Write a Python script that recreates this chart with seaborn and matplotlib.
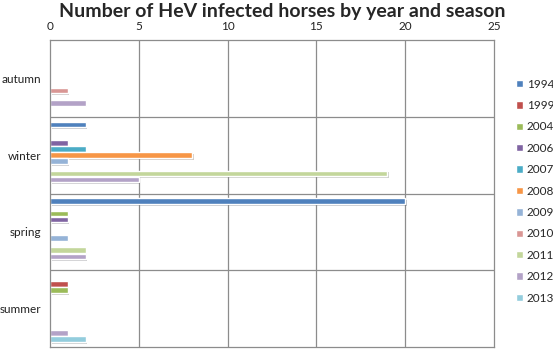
import pandas as pd
import matplotlib.pyplot as plt
import matplotlib.patheffects as pe
from matplotlib.patches import Patch
import seaborn as sns

# seasons (top to bottom) and years
seasons = ["autumn", "winter", "spring", "summer"]
years = ["1994", "1999", "2004", "2006", "2007", "2008",
         "2009", "2010", "2011", "2012", "2013"]

# infected horses per year, in season order
v1994 = [0, 2, 20, 0]
v1999 = [0, 0, 0, 1]
v2004 = [0, 0, 1, 1]
v2006 = [0, 1, 1, 0]
v2007 = [0, 2, 0, 0]
v2008 = [0, 8, 0, 0]
v2009 = [0, 1, 1, 0]
v2010 = [1, 0, 0, 0]
v2011 = [0, 19, 2, 0]
v2012 = [2, 5, 2, 1]
v2013 = [0, 0, 0, 2]

colors = ["#4F81BD", "#C0504D", "#9BBB59", "#8064A2", "#4BACC6", "#F79646",
          "#95B3D7", "#D99694", "#C3D69B", "#B3A2C7", "#93CDDD"]

all_vals = [v1994, v1999, v2004, v2006, v2007, v2008,
            v2009, v2010, v2011, v2012, v2013]
rows = []
for yr, vals in zip(years, all_vals):
    for s, v in zip(seasons, vals):
        rows.append({"season": s, "year": yr, "count": v})
df = pd.DataFrame(rows)

sns.set_style("white")
plt.rcParams["font.family"] = ["Lato", "DejaVu Sans"]

fig = plt.figure(figsize=(5.53, 3.49), dpi=100)
ax = fig.add_axes([50 / 553, 2 / 349, 444 / 553, 307 / 349])

sns.barplot(data=df, y="season", x="count", hue="year", order=seasons,
            hue_order=years, palette=colors, orient="h", width=0.88,
            ax=ax, legend=False, saturation=1)

# slight drop shadow like the original
for bar in ax.patches:
    bar.set_height(bar.get_height() * 0.92)
    bar.set_y(bar.get_y() + bar.get_height() * 0.04)
    bar.set_path_effects([pe.SimplePatchShadow(offset=(1.2, -1.2), alpha=0.25),
                          pe.Normal()])

ax.set_xlim(0, 25)
ax.set_ylim(3.5, -0.5)
ax.set_xticks([0, 5, 10, 15, 20, 25])
ax.xaxis.tick_top()
ax.tick_params(axis="both", length=0, labelsize=8.5, pad=6, labelcolor="#222222")
ax.set_xlabel("")
ax.set_ylabel("")

for x in [5, 10, 15, 20]:
    ax.axvline(x, color="#8C8C8C", lw=0.9, zorder=0)
for y in [0.5, 1.5, 2.5]:
    ax.axhline(y, color="#8C8C8C", lw=0.9, zorder=0)
for sp in ax.spines.values():
    sp.set_color("#8C8C8C")
    sp.set_linewidth(0.9)

handles = [Patch(facecolor=c, label=y) for c, y in zip(colors, years)]
fig.legend(handles=handles, loc="upper left", bbox_to_anchor=(511 / 553, 1 - 74 / 349),
           frameon=False, fontsize=8.5, handlelength=0.6, handleheight=0.6,
           handletextpad=0.35, labelspacing=0.88, borderaxespad=0)

fig.text(282 / 553, 1 - 12 / 349, "Number of HeV infected horses by year and season",
         ha="center", va="center", fontsize=14, fontweight="bold")

fig.savefig("out.png", dpi=100)
